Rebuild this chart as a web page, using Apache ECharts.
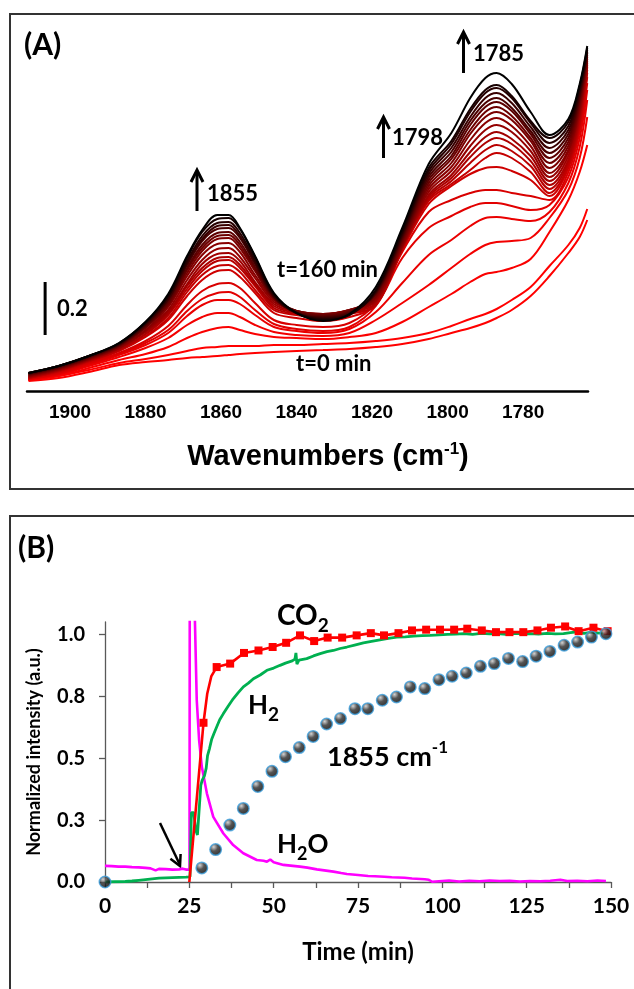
<!DOCTYPE html>
<html><head><meta charset="utf-8">
<script src="https://cdn.jsdelivr.net/npm/echarts@6/dist/echarts.min.js"></script>
<style>html,body{margin:0;padding:0;background:#fff}#c{width:634px;height:989px}</style>
</head><body><div id="c"></div>
<script>
// ---------------- Panel A data (IR spectra) ----------------
// x: wavenumber (cm-1); y: absorbance in units where 53 units = 0.2 (scale bar)
const wavenumbers = [1911,1903,1895,1887,1880,1874,1869,1865,1861,1858,1855,1851,1846,1840,1833,1826,1819,1812,1805,1799,1794,1790,1787,1783,1778,1773,1768,1765,1763];
const xTickValues = [1780,1800,1820,1840,1860,1880,1900];
// spectra from t=0 min (first) to t=160 min (last)
const spectrum01 = [10,13,19,26,29,31,33,34,35,36,37,38,39,40,41,42,44,47,52,58,63,68,73,81,95,115,138,154,171];
const spectrum02 = [11,15,21,28,32,36,40,43,44,45,45,45,46,46,47,48,50,53,58,65,72,77,82,91,104,125,146,163,182];
const spectrum03 = [11,15,23,31,37,44,53,59,63,64,61,57,54,53,52,54,58,69,84,97,109,117,119,123,132,159,191,219,246];
const spectrum04 = [11,16,25,34,43,53,66,74,78,78,74,66,59,56,55,58,71,88,106,123,137,146,149,150,153,173,201,233,274];
const spectrum05 = [12,17,26,36,46,58,75,86,91,91,87,76,64,60,58,62,79,108,136,151,165,173,174,172,170,179,208,244,291];
const spectrum06 = [12,17,27,37,48,61,80,92,98,99,94,81,67,62,60,64,85,133,163,175,184,188,188,185,181,186,214,253,301];
const spectrum07 = [12,18,28,38,50,65,86,100,107,108,103,88,71,66,64,68,88,139,179,191,198,201,201,198,195,191,219,260,308];
const spectrum08 = [13,19,29,40,54,71,95,111,120,121,114,98,78,73,70,74,86,141,187,205,217,223,224,220,211,195,223,266,314];
const spectrum09 = [13,20,30,41,55,73,99,116,125,126,119,101,81,76,73,77,86,142,190,207,221,233,238,233,219,198,225,267,318];
const spectrum10 = [13,20,30,41,57,76,102,120,130,131,123,105,83,77,74,78,86,143,192,210,228,241,246,240,225,202,228,271,321];
const spectrum11 = [14,21,31,42,57,77,105,123,133,134,126,107,85,78,75,79,88,143,194,213,234,248,253,247,230,206,231,275,324];
const spectrum12 = [14,21,31,43,59,79,107,127,137,138,130,109,87,79,76,80,90,144,196,216,239,254,259,252,235,210,235,278,326];
const spectrum13 = [15,22,32,43,60,81,111,131,142,143,134,113,89,80,77,81,91,145,199,220,245,261,266,259,240,214,239,281,328];
const spectrum14 = [15,22,32,44,61,84,115,136,147,148,139,116,91,80,77,81,93,146,202,224,251,268,273,265,245,218,241,284,330];
const spectrum15 = [16,23,33,45,63,86,118,140,152,153,143,120,92,80,77,81,94,148,205,228,257,274,279,271,250,223,245,287,332];
const spectrum16 = [16,23,33,45,64,87,121,143,155,156,146,122,93,80,76,80,96,150,208,232,261,279,284,275,253,228,249,290,334];
const spectrum17 = [17,24,34,46,65,89,123,146,158,159,149,124,94,79,75,79,97,152,211,235,266,284,289,280,257,233,253,293,336];
const spectrum18 = [17,24,34,46,66,91,126,150,162,163,153,127,94,78,74,78,98,154,214,239,270,288,293,283,260,238,257,296,338];
const spectrum19 = [18,25,35,47,67,92,128,152,165,166,155,129,95,78,73,77,99,156,217,243,274,293,298,288,264,243,261,299,339];
const spectrum20 = [18,25,35,47,68,94,130,155,168,169,158,131,96,78,72,76,100,158,220,247,279,298,303,293,268,248,265,302,341];
const spectrum21 = [18,25,35,48,69,95,133,159,172,173,162,134,97,78,71,76,101,160,223,250,282,301,306,295,270,253,269,305,343];
const spectrum22 = [18,25,35,48,69,97,135,161,176,176,163,135,98,78,70,77,104,163,227,258,293,313,318,307,279,256,272,307,345];
const spectra = [spectrum01,spectrum02,spectrum03,spectrum04,spectrum05,spectrum06,spectrum07,spectrum08,spectrum09,spectrum10,spectrum11,
  spectrum12,spectrum13,spectrum14,spectrum15,spectrum16,spectrum17,spectrum18,spectrum19,spectrum20,spectrum21,spectrum22];
// 0.2 absorbance scale bar (wavenumber, [from, to])
const scaleBarWavenumber = 1906.6;
const scaleBarRange = [56, 109];

// ---------------- Panel B data (time profiles) ----------------
const co2Time  = [25,29.2,30.3,31.5,33.1,37.1,41.2,45.5,49.7,53.7,57.8,62.0,66.0,70.3,74.6,78.8,82.7,87.0,91.0,95.2,99.3,103.5,107.4,111.7,115.9,119.9,124.0,128.2,132.2,136.4,140.4,144.8,149.0];
const co2Value = [0,0.643,0.76,0.83,0.868,0.882,0.925,0.935,0.949,0.966,0.996,0.973,0.987,0.987,0.996,1.005,0.996,1.005,1.016,1.019,1.019,1.019,1.023,1.016,1.009,1.009,1.009,1.016,1.027,1.032,1.013,1.027,1.013];
const co2Marked = [false,true,false,false,true,true,true,true,true,true,true,true,true,true,true,true,true,true,true,true,true,true,true,true,true,true,true,true,true,true,true,true,true];

const h2Time  = [0,3,6,8,10,12,14,16,18,20,22,24,25.2,25.6,26.3,26.9,27.4,28.0,28.4,28.8,29.5,30.0,30.4,31.0,31.6,32.3,33.1,34.0,35.1,36.5,38.0,39.5,41.0,42.5,44.0,46.0,48.0,50.0,51.9,53.5,55.5,56.3,56.6,56.9,57.5,59.8,61.8,63.8,65.8,67.7,69.7,71.7,74.0,76.6,79,81.5,84,86.5,89,91.5,94,96.4,99,101.5,104,106.3,109,111.5,114,116.2,119,121.5,124,126,128.5,131,133.5,135.9,138,139.9,142,144,145.8,147.8];
const h2Value = [0,0.001,0.002,0.004,0.007,0.01,0.013,0.016,0.017,0.018,0.019,0.02,0.021,0.28,0.28,0.21,0.19,0.31,0.39,0.41,0.43,0.46,0.51,0.54,0.575,0.6,0.626,0.655,0.68,0.71,0.74,0.765,0.788,0.803,0.821,0.836,0.855,0.864,0.875,0.884,0.893,0.9,0.925,0.88,0.896,0.902,0.913,0.922,0.93,0.935,0.943,0.949,0.957,0.966,0.972,0.978,0.984,0.989,0.99,0.993,0.995,0.996,0.998,1.0,1.001,1.003,1.0,1.004,1.002,1.003,1.0,1.004,1.002,1.003,1.001,1.004,1.002,1.003,1.007,1.01,1.004,1.008,1.005,1.006];

const h2oTime  = [0,2,4,6,8,10,12,13.5,15,16,18,20,22,23,24,25.05,25.15,25.9,27.2,27.9,28.7,30.2,32.1,35.1,38,41,45,47,48,49,50,52.9,55,57.8,60,62.8,65,67.7,70,71.7,75,78,80,82.8,85,88.8,91,94.8,96,97,99,102,105,108,111,114,117,120,123,126,129,132,135,137,140,143,146,148.5];
const h2oValue = [0.065,0.064,0.062,0.062,0.06,0.059,0.057,0.055,0.047,0.053,0.052,0.05,0.051,0.054,0.05,0.05,1.5,1.5,0.734,0.573,0.465,0.358,0.263,0.196,0.149,0.116,0.089,0.086,0.082,0.091,0.08,0.069,0.066,0.062,0.058,0.051,0.047,0.042,0.036,0.032,0.028,0.024,0.023,0.021,0.019,0.017,0.014,0.011,0.009,0.001,0.003,0.006,0.002,0.005,0.003,0.006,0.004,0.005,0.002,0.004,0.003,0.005,0.009,0.004,0.005,0.003,0.006,0.004];

const band1855Time  = [0,28.7,32.8,37.0,41.0,45.3,49.5,53.5,57.6,61.7,65.7,69.8,74.1,77.9,82.2,86.4,90.5,94.8,99.0,102.9,107.1,111.3,115.4,119.6,123.8,127.8,131.9,136.1,140.1,144.2,148.5];
const band1855Value = [0,0.057,0.131,0.23,0.297,0.386,0.447,0.506,0.543,0.588,0.638,0.66,0.7,0.7,0.734,0.747,0.788,0.781,0.817,0.831,0.844,0.871,0.882,0.903,0.89,0.912,0.931,0.956,0.969,0.989,1.003];
const yTickValuesB = [0,0.25,0.5,0.75,1.0];

// ---------------- styles ----------------
const spectrumColors = ['#ff0000','#ff0000','#fa0000','#f20000','#ea0000','#e20000','#d80000','#ce0000','#c40000','#b80000','#ac0000',
  '#a00000','#940000','#880000','#7a0000','#6c0000','#5c0000','#4a0000','#380000','#260000','#160000','#000000'];
const FA = 'Liberation Sans';
const FB = 'Lato';

const chart = echarts.init(document.getElementById('c'));
const series = [];
spectra.forEach((s, i) => {
  series.push({
    type: 'line', xAxisIndex: 0, yAxisIndex: 0, silent: true,
    data: wavenumbers.map((w, j) => [w, s[j]]),
    smooth: 0.35, symbol: 'none',
    lineStyle: { width: 2, color: spectrumColors[i] }
  });
});
series.push({
  type: 'line', xAxisIndex: 0, yAxisIndex: 0, silent: true, symbol: 'none',
  data: scaleBarRange.map(v => [scaleBarWavenumber, v]),
  lineStyle: { width: 3, color: '#000' }
});
series.push({
  type: 'line', xAxisIndex: 1, yAxisIndex: 1, silent: true, symbol: 'none',
  data: h2oTime.map((t, i) => [t, h2oValue[i]]),
  lineStyle: { width: 2.6, color: '#ff00ff' }, z: 3
});
series.push({
  type: 'line', xAxisIndex: 1, yAxisIndex: 1, silent: true, symbol: 'none',
  data: h2Time.map((t, i) => [t, h2Value[i]]),
  lineStyle: { width: 2.8, color: '#00b050' }, z: 4
});
series.push({
  type: 'line', xAxisIndex: 1, yAxisIndex: 1, silent: true,
  showAllSymbol: true, symbol: 'rect', symbolSize: 8,
  data: co2Time.map((t, i) => co2Marked[i] ? [t, co2Value[i]] : { value: [t, co2Value[i]], symbol: 'none' }),
  lineStyle: { width: 2.6, color: '#ff0000' }, itemStyle: { color: '#ff0000' }, z: 5
});
series.push({
  type: 'scatter', xAxisIndex: 1, yAxisIndex: 1, silent: true,
  symbol: 'circle', symbolSize: 11.5,
  data: band1855Time.map((t, i) => [t, band1855Value[i]]),
  itemStyle: {
    color: new echarts.graphic.RadialGradient(0.35, 0.3, 0.7, [
      { offset: 0, color: '#c8c8c8' }, { offset: 0.45, color: '#2a2a2a' }, { offset: 1, color: '#000' }]),
    borderColor: '#3d9fdc', borderWidth: 1.5
  }, z: 6
});

const measureCtx = document.createElement('canvas').getContext('2d');
function textWidth(t, size, font) {
  measureCtx.font = 'bold ' + size + 'px ' + font;
  return measureCtx.measureText(t).width;
}
function txt(x, y, text, size, font, align) {
  return { type: 'text', x: x, y: y, silent: true,
    style: { text: text, fontSize: size, fontWeight: 'bold', fontFamily: font, fill: '#000', align: align || 'left', verticalAlign: 'middle' } };
}
// pieces: [text, fontSize, vertical offset]; laid out left to right
function pieces(x, y, parts, font) {
  const out = [];
  let cx = x;
  parts.forEach(p => {
    out.push(txt(cx, y + p[2], p[0], p[1], font));
    cx += textWidth(p[0], p[1], font);
  });
  return out;
}
function centeredPieces(xc, y, parts, font) {
  const w = parts.reduce((s, p) => s + textWidth(p[0], p[1], font), 0);
  return pieces(xc - w / 2, y, parts, font);
}
function upArrow(x, yTop, yBottom) {
  return [
    { type: 'line', silent: true, shape: { x1: x, y1: yBottom, x2: x, y2: yTop + 1 }, style: { stroke: '#000', lineWidth: 3 } },
    { type: 'polyline', silent: true, shape: { points: [[x - 6, yTop + 12], [x, yTop], [x + 6, yTop + 12]] }, style: { stroke: '#000', lineWidth: 3, fill: null } }
  ];
}

const graphic = [
  { type: 'rect', silent: true, shape: { x: 10, y: 14, width: 640, height: 475 }, style: { fill: null, stroke: '#333', lineWidth: 2 } },
  { type: 'rect', silent: true, shape: { x: 10, y: 516, width: 640, height: 500 }, style: { fill: null, stroke: '#333', lineWidth: 2 } },
  txt(24, 45, '(A)', 30, FB),
  txt(18, 548, '(B)', 30, FB),
  txt(207, 194, '1855', 22, FB),
  txt(392, 138, '1798', 22, FB),
  txt(473, 54, '1785', 22, FB),
  txt(277, 270, 't=160 min', 22, FB),
  txt(296, 364, 't=0 min', 22, FB),
  txt(57, 309, '0.2', 22, FB),
  ...upArrow(197, 170, 211),
  ...upArrow(383.5, 117, 158),
  ...upArrow(463.5, 32, 73),
  ...centeredPieces(328, 457, [['Wavenumbers (cm', 29, 0], ['-1', 17, -8], [')', 29, 0]], FA),
  ...pieces(277, 616, [['CO', 28, 0], ['2', 19, 10]], FB),
  ...pieces(248, 706, [['H', 26, 0], ['2', 19, 9]], FB),
  ...pieces(277, 845, [['H', 26, 0], ['2', 18, 9], ['O', 26, 0]], FB),
  ...pieces(327, 757, [['1855 cm', 27, 0], ['-1', 17, -9]], FB),
  { type: 'line', silent: true, shape: { x1: 160, y1: 823, x2: 180, y2: 865 }, style: { stroke: '#000', lineWidth: 2.5 } },
  { type: 'polyline', silent: true, shape: { points: [[180.6, 854], [180, 866], [170.4, 858.8]] }, style: { stroke: '#000', lineWidth: 2.5, fill: null } }
];

chart.setOption({
  animation: false,
  backgroundColor: '#fff',
  grid: [
    { left: 27, right: 46, top: 20, bottom: 598 },
    { left: 105, right: 23, top: 622, bottom: 107 }
  ],
  xAxis: [
    { gridIndex: 0, type: 'value', inverse: true, min: 1762.8, max: 1911.4,
      axisLine: { show: true, onZero: false, lineStyle: { color: '#000', width: 2.5 } },
      axisTick: { show: false }, splitLine: { show: false },
      axisLabel: { customValues: xTickValues, formatter: v => String(v), fontSize: 19, fontWeight: 'bold', fontFamily: FA, color: '#000', margin: 12 } },
    { gridIndex: 1, type: 'value', min: 0, max: 150, interval: 12.5,
      axisLine: { show: true, onZero: false, lineStyle: { color: '#595959', width: 1.3 } },
      axisTick: { show: true, length: 6, lineStyle: { color: '#595959', width: 1.3 } },
      splitLine: { show: false },
      axisLabel: { formatter: v => (v % 25 === 0 ? String(v) : ''), fontSize: 21, fontWeight: 'bold', fontFamily: FB, color: '#000', margin: 14 },
      name: 'Time (min)', nameLocation: 'middle', nameGap: 58,
      nameTextStyle: { fontSize: 24, fontWeight: 'bold', fontFamily: FB, color: '#000' } }
  ],
  yAxis: [
    { gridIndex: 0, type: 'value', min: 0, max: 371, show: false },
    { gridIndex: 1, type: 'value', min: 0, max: 1.05,
      axisLine: { show: true, onZero: false, lineStyle: { color: '#595959', width: 1.3 } },
      axisTick: { show: true, length: 6, customValues: yTickValuesB, lineStyle: { color: '#595959', width: 1.3 } },
      splitLine: { show: false },
      axisLabel: { customValues: yTickValuesB, formatter: v => v.toFixed(1), fontSize: 20, fontWeight: 'bold', fontFamily: FB, color: '#000', margin: 20 },
      name: 'Normalized intensity (a.u.)', nameLocation: 'middle', nameGap: 62,
      nameTextStyle: { fontSize: 18, fontWeight: 'bold', fontFamily: FB, color: '#000' } }
  ],
  series: series,
  graphic: graphic
});
</script></body></html>
